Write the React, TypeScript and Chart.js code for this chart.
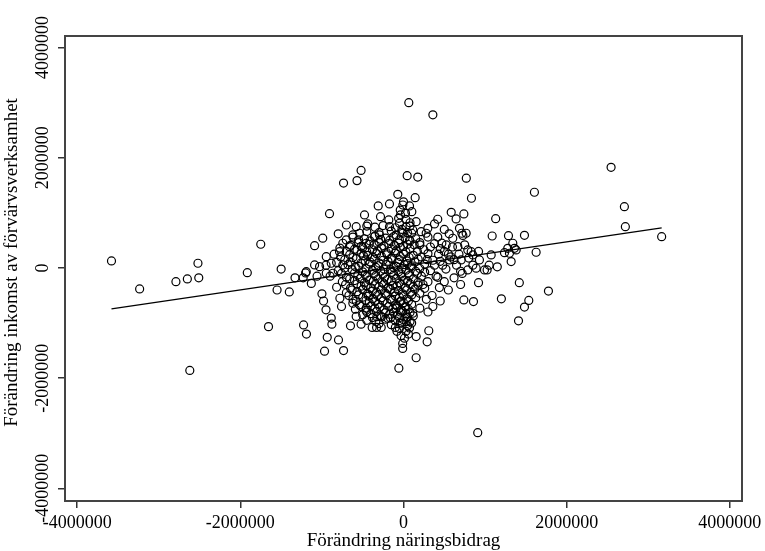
import React, { useEffect, useRef } from "react";
import { Chart, registerables } from "chart.js";

Chart.register(...registerables);

const xTicks = [-4000000, -2000000, 0, 2000000, 4000000];
const yTicks = [-4000000, -2000000, 0, 2000000, 4000000];
const xRange = [-4150000, 4150000];
const yRange = [-4230000, 4210000];
const xTitle = "Förändring näringsbidrag";
const yTitle = "Förändring inkomst av förvärvsverksamhet";

const fitLine: [number, number][] = [
  [-3580000, -744000],
  [3165000, 726000],
];

const leftPoints: [number, number][] = [
  [-3580000, 127000], [-3235000, -380000], [-2790000, -250000], [-2650000, -200000],
  [-2510000, -180000], [-2520000, 85000], [-2620000, -1860000], [-1915000, -85000],
  [-1750000, 430000], [-1500000, -20000], [-1655000, -1065000], [-1550000, -400000],
  [-1400000, -435000], [-1330000, -180000], [-1230000, -180000], [-1225000, -1035000],
  [-1190000, -1200000], [-1200000, -90000], [-1090000, 405000], [-990000, 540000],
  [-1090000, 54000], [-1000000, -470000], [-907000, 985000], [-1130000, -280000],
  [-1060000, -150000], [-1029000, 24000], [-947000, -96000], [-1192000, -67000],
  [-980000, -600000], [-950000, -760000], [-947000, 205000], [-886000, 85000],
  [-866000, -96000],
];

const lowerPoints: [number, number][] = [
  [-968000, -1510000], [-735000, -1500000], [-935000, -1260000], [-797000, -1307000],
  [-878000, -1020000], [-886000, -910000], [-650000, -1050000], [-580000, -880000],
  [-760000, -700000], [-621000, -641000], [-457000, -731000], [-384000, -1080000],
  [-330000, -1080000], [-273000, -1080000], [-100000, -1080000], [-50000, -1100000],
  [-10000, -1370000], [-10000, -1460000], [12000, -1275000], [74000, -1090000],
  [114000, -822000], [33000, -975000], [-192000, -913000], [-327000, -884000],
  [-89000, -731000], [155000, -1245000], [310000, -1140000], [290000, -1340000],
  [300000, -800000], [360000, -700000], [440000, -357000], [-57000, -1820000],
  [155000, -1630000], [910000, -2990000],
];

const upperPoints: [number, number][] = [
  [65000, 3000000], [360000, 2780000], [-520000, 1770000], [-570000, 1585000],
  [-735000, 1540000], [45000, 1675000], [175000, 1650000], [770000, 1630000],
  [833000, 1265000], [-70000, 1337000], [143000, 1276000], [-310000, 1125000],
  [-172000, 1162000], [-478000, 962000], [-437000, 799000], [-282000, 931000],
  [-8000, 1143000], [74000, 1125000], [25000, 992000], [102000, 1022000],
  [-37000, 962000], [-180000, 871000], [420000, 884000], [380000, 799000],
  [298000, 720000], [155000, 840000], [217000, 659000], [278000, 630000],
  [-621000, 599000], [-702000, 508000], [-744000, 448000], [-662000, 387000],
  [-784000, 296000], [-744000, 54000], [-457000, 448000], [-355000, 568000],
  [-294000, 599000], [-89000, 599000], [-8000, 630000], [74000, 508000],
  [-172000, 750000], [-49000, 811000], [33000, 750000], [114000, 690000],
  [-580000, 750000], [-539000, 630000], [-700000, 780000], [-800000, 620000],
];

const rightPoints: [number, number][] = [
  [1605000, 1374000], [1130000, 895000], [585000, 1010000], [740000, 980000],
  [645000, 890000], [686000, 720000], [715000, 630000], [768000, 630000],
  [728000, 590000], [1087000, 580000], [1287000, 586000], [1483000, 593000],
  [1626000, 285000], [830000, 296000], [523000, 417000], [604000, 539000],
  [666000, 387000], [788000, 327000], [850000, 236000], [931000, 145000],
  [891000, -5000], [993000, -36000], [1025000, -36000], [788000, -36000],
  [564000, 145000], [707000, 145000], [1075000, 236000], [1278000, 357000],
  [1340000, 448000], [1381000, 327000], [1299000, 267000], [1320000, 115000],
  [1238000, 278000], [1360000, 357000], [1420000, -267000], [920000, -267000],
  [1200000, -560000], [1777000, -420000], [740000, -580000], [858000, -610000],
  [1536000, -590000], [1483000, -710000], [1410000, -960000], [2545000, 1827000],
  [2708000, 1113000], [2720000, 750000], [3165000, 568000], [1050000, 50000],
  [1150000, 20000],
  [450000, 120000], [520000, -20000], [580000, 200000], [650000, 50000],
  [720000, -100000], [800000, 180000], [500000, 300000], [600000, 380000],
  [680000, 250000], [750000, 420000], [850000, 50000], [920000, 300000],
  [400000, -150000], [500000, -250000], [550000, -400000], [620000, -180000],
  [700000, -300000], [350000, -500000], [450000, -600000], [380000, 50000],
  [430000, 250000], [470000, 450000], [330000, 380000], [290000, 150000],
  [260000, -80000], [240000, -300000], [200000, 420000], [560000, 620000],
  [500000, 700000], [420000, 560000],
];

const corePoints: [number, number][] = [
  [-620000, 560000], [-480000, 530000], [-350000, 580000], [-220000, 540000],
  [-120000, 570000], [20000, 550000], [150000, 530000], [300000, 560000],
  [-550000, 460000], [-420000, 430000], [-300000, 470000], [-180000, 440000],
  [-60000, 450000], [50000, 430000], [200000, 460000], [380000, 440000],
  [-780000, 360000], [-600000, 340000], [-500000, 370000], [-380000, 330000],
  [-270000, 360000], [-150000, 340000], [-40000, 370000], [80000, 350000],
  [250000, 330000], [450000, 350000],
  [-850000, 250000], [-660000, 240000], [-520000, 270000], [-440000, 230000],
  [-330000, 260000], [-200000, 240000], [-100000, 270000], [0, 250000],
  [120000, 230000], [300000, 260000], [550000, 250000],
  [-720000, 150000], [-580000, 170000], [-470000, 130000], [-360000, 160000],
  [-250000, 140000], [-140000, 170000], [-50000, 150000], [40000, 130000],
  [180000, 160000], [360000, 140000], [620000, 150000],
  [-950000, 50000], [-680000, 60000], [-550000, 30000], [-420000, 70000],
  [-310000, 40000], [-210000, 60000], [-90000, 30000], [10000, 60000],
  [100000, 40000], [260000, 70000], [480000, 50000],
  [-800000, -50000], [-630000, -30000], [-500000, -70000], [-380000, -40000],
  [-280000, -60000], [-160000, -30000], [-60000, -70000], [30000, -40000],
  [150000, -60000], [330000, -50000], [700000, -60000],
  [-900000, -150000], [-700000, -170000], [-560000, -130000], [-450000, -160000],
  [-340000, -140000], [-230000, -170000], [-120000, -130000], [-20000, -160000],
  [70000, -140000], [220000, -150000], [420000, -170000],
  [-750000, -250000], [-600000, -230000], [-480000, -270000], [-370000, -240000],
  [-260000, -260000], [-150000, -230000], [-50000, -270000], [50000, -240000],
  [180000, -260000], [300000, -250000],
  [-820000, -350000], [-650000, -370000], [-520000, -330000], [-400000, -360000],
  [-300000, -340000], [-190000, -370000], [-80000, -330000], [20000, -360000],
  [120000, -340000], [260000, -370000],
  [-700000, -450000], [-570000, -430000], [-440000, -470000], [-330000, -440000],
  [-220000, -460000], [-110000, -430000], [-10000, -470000], [90000, -440000],
  [200000, -460000],
  [-780000, -550000], [-620000, -570000], [-500000, -530000], [-380000, -560000],
  [-270000, -540000], [-160000, -570000], [-50000, -530000], [40000, -560000],
  [150000, -540000], [280000, -570000],
  [-540000, -670000], [-420000, -630000], [-310000, -660000], [-200000, -640000],
  [-100000, -670000], [0, -630000], [100000, -660000],
  [-590000, -750000], [-460000, -770000], [-350000, -730000], [-240000, -760000],
  [-130000, -740000], [-30000, -770000], [60000, -750000], [200000, -730000],
  [-500000, -850000], [-400000, -830000], [-280000, -870000], [-170000, -840000],
  [-70000, -860000], [30000, -830000], [120000, -870000],
  [-450000, -950000], [-340000, -970000], [-220000, -930000], [-100000, -960000],
  [0, -940000], [80000, -970000],
  [-520000, -1020000], [-300000, -1010000], [-150000, -1030000], [-40000, -1000000],
  [-40000, 1050000], [30000, 880000], [-20000, 700000], [50000, 640000],
  [-30000, -600000], [20000, -700000], [-40000, -800000], [40000, -900000],
  [-20000, -1000000], [30000, -1150000], [-30000, -1230000], [60000, -1200000],
];

const denseCorePoints: [number, number][] = [
  [-450000, 760000], [-350000, 740000], [-250000, 770000], [-100000, 730000], [80000, 760000],
  [-450000, 660000], [-300000, 640000], [-150000, 670000], [-20000, 650000], [100000, 630000],
  [-550000, 510000], [-410000, 490000], [-280000, 520000], [-170000, 500000], [-50000, 510000], [80000, 490000],
  [-650000, 410000], [-520000, 390000], [-360000, 420000], [-240000, 400000], [-110000, 410000], [0, 390000], [130000, 420000],
  [-700000, 300000], [-570000, 320000], [-450000, 290000], [-320000, 310000], [-210000, 280000], [-90000, 310000], [30000, 290000], [170000, 300000],
  [-770000, 200000], [-620000, 190000], [-490000, 220000], [-380000, 200000], [-270000, 210000], [-150000, 180000], [-40000, 210000], [70000, 190000], [220000, 200000],
  [-820000, 100000], [-650000, 110000], [-520000, 90000], [-410000, 110000], [-300000, 90000], [-190000, 120000], [-70000, 100000], [50000, 80000], [140000, 110000],
  [-720000, 0], [-590000, 20000], [-460000, -10000], [-340000, 10000], [-240000, -20000], [-120000, 10000], [-20000, -10000], [90000, 20000], [200000, -10000],
  [-760000, -100000], [-600000, -90000], [-470000, -120000], [-360000, -100000], [-250000, -110000], [-140000, -80000], [-30000, -110000], [60000, -90000], [170000, -100000],
  [-660000, -200000], [-530000, -190000], [-420000, -220000], [-310000, -200000], [-200000, -210000], [-90000, -190000], [10000, -220000], [120000, -200000],
  [-710000, -300000], [-570000, -290000], [-460000, -320000], [-350000, -300000], [-240000, -290000], [-130000, -320000], [-30000, -300000], [80000, -290000], [180000, -310000],
  [-630000, -400000], [-500000, -390000], [-380000, -420000], [-270000, -400000], [-160000, -390000], [-60000, -410000], [40000, -400000], [140000, -380000],
  [-670000, -500000], [-550000, -490000], [-430000, -510000], [-320000, -500000], [-210000, -490000], [-100000, -510000], [0, -500000], [100000, -490000],
  [-580000, -600000], [-460000, -590000], [-350000, -610000], [-250000, -600000], [-140000, -590000], [-40000, -610000], [60000, -600000],
  [-520000, -700000], [-400000, -690000], [-290000, -710000], [-180000, -700000], [-80000, -690000], [30000, -710000],
  [-450000, -800000], [-330000, -790000], [-220000, -810000], [-120000, -800000], [-10000, -790000], [80000, -810000],
  [-380000, -900000], [-270000, -890000], [-160000, -910000], [-50000, -900000], [50000, -890000],
  [0, 1200000], [-60000, 900000], [80000, 820000], [50000, -1050000], [-80000, -1150000], [100000, -1000000],
];

const observations = [
  ...leftPoints, ...lowerPoints, ...upperPoints, ...rightPoints, ...corePoints, ...denseCorePoints,
];

const FONT = "'Liberation Serif', 'Times New Roman', serif";

const framePlugin = {
  id: "stataFrame",
  afterDraw(chart: any) {
    const { ctx, chartArea: a, scales } = chart;
    ctx.save();
    ctx.strokeStyle = "#444";
    ctx.lineWidth = 2;
    ctx.strokeRect(a.left, a.top, a.right - a.left, a.bottom - a.top);
    const ys = scales.y;
    ctx.fillStyle = "#000";
    ctx.font = `18px ${FONT}`;
    ctx.textAlign = "center";
    ctx.textBaseline = "middle";
    ys.ticks.forEach((t: any) => {
      const py = ys.getPixelForValue(t.value);
      ctx.save();
      ctx.translate(a.left - 22, py);
      ctx.rotate(-Math.PI / 2);
      ctx.fillText(String(t.value), 0, 0);
      ctx.restore();
    });
    ctx.font = `19px ${FONT}`;
    ctx.save();
    ctx.translate(12, (a.top + a.bottom) / 2 - 6);
    ctx.rotate(-Math.PI / 2);
    ctx.fillText(yTitle, 0, 0);
    ctx.restore();
    ctx.restore();
  },
};

export default function App() {
  const ref = useRef<HTMLCanvasElement | null>(null);
  useEffect(() => {
    if (!ref.current) return;
    const chart = new Chart(ref.current, {
      type: "scatter",
      data: {
        datasets: [
          {
            type: "scatter",
            data: observations.map(([x, y]) => ({ x, y })),
            pointRadius: 4,
            pointHoverRadius: 4,
            pointBorderWidth: 1.2,
            borderColor: "#000",
            backgroundColor: "rgba(0,0,0,0)",
            pointStyle: "circle",
          },
          {
            type: "line",
            data: fitLine.map(([x, y]) => ({ x, y })),
            borderColor: "#000",
            borderWidth: 1.3,
            pointRadius: 0,
            fill: false,
          } as any,
        ],
      },
      options: {
        animation: false,
        responsive: true,
        maintainAspectRatio: false,
        layout: { padding: { top: 36, right: 23, left: 0, bottom: 0 } },
        plugins: { legend: { display: false }, tooltip: { enabled: false } },
        scales: {
          x: {
            type: "linear",
            min: xRange[0],
            max: xRange[1],
            afterBuildTicks: (s: any) => {
              s.ticks = xTicks.map((v) => ({ value: v }));
            },
            afterFit: (s: any) => {
              s.height = 50;
              s.paddingLeft = 0;
              s.paddingRight = 0;
            },
            grid: { drawOnChartArea: false, drawTicks: true, tickLength: 7, color: "#333", lineWidth: 1.5 },
            border: { display: false },
            ticks: {
              color: "#000",
              font: { family: FONT, size: 18 },
              padding: 4,
              maxRotation: 0,
              minRotation: 0,
              autoSkip: false,
              callback: (v: any) => String(v),
            },
            title: {
              display: true,
              text: xTitle,
              color: "#000",
              font: { family: FONT, size: 19, lineHeight: 1 },
              padding: { top: 0, bottom: 0 },
            },
          },
          y: {
            type: "linear",
            min: yRange[0],
            max: yRange[1],
            afterBuildTicks: (s: any) => {
              s.ticks = yTicks.map((v) => ({ value: v }));
            },
            afterFit: (s: any) => {
              s.width = 65;
            },
            grid: { drawOnChartArea: false, drawTicks: true, tickLength: 7, color: "#333", lineWidth: 1.5 },
            border: { display: false },
            ticks: { display: false },
          },
        },
      },
      plugins: [framePlugin],
    });
    return () => chart.destroy();
  }, []);
  return (
    <div style={{ position: "absolute", left: 0, top: 0, width: 765, height: 551 }}>
      <canvas ref={ref} />
    </div>
  );
}
